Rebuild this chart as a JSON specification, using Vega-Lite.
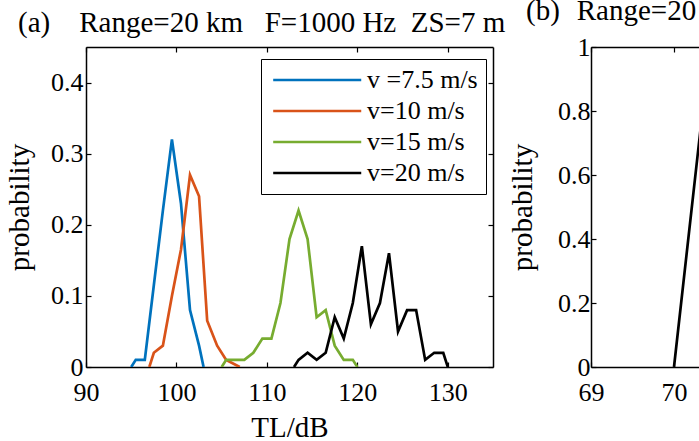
{
  "$schema": "https://vega.github.io/schema/vega-lite/v6.json",
  "padding": {"left": 5, "top": -3, "right": 0, "bottom": 0},
  "background": "white",
  "config": {
    "font": "Liberation Serif",
    "view": {"stroke": null},
    "axis": {
      "domainColor": "black", "domainWidth": 1.5,
      "tickColor": "black", "tickSize": -5, "tickWidth": 1.2,
      "labelColor": "black", "labelFont": "Liberation Serif", "labelFontSize": 26,
      "titleFont": "Liberation Serif", "titleFontSize": 29, "titleFontWeight": "normal", "titleColor": "black",
      "grid": false, "labelOverlap": false, "labelFlush": false
    },
    "title": {"font": "Liberation Serif", "fontSize": 29, "fontWeight": "normal", "color": "black", "anchor": "start", "frame": "group", "baseline": "alphabetic", "offset": 8}
  },
  "spacing": 2,
  "hconcat": [
    {
      "width": 407,
      "height": 320,
      "title": {"text": "(a)\u00a0\u00a0\u00a0\u00a0Range=20 km\u00a0\u00a0\u00a0F=1000 Hz\u00a0\u00a0ZS=7 m", "dx": -68},
      "data": {"values": [
        {"series": "v =7.5 m/s", "TL": 95, "p": 0},
        {"series": "v =7.5 m/s", "TL": 95.5, "p": 0.01},
        {"series": "v =7.5 m/s", "TL": 96.5, "p": 0.01},
        {"series": "v =7.5 m/s", "TL": 97.5, "p": 0.115},
        {"series": "v =7.5 m/s", "TL": 98.5, "p": 0.22},
        {"series": "v =7.5 m/s", "TL": 99.5, "p": 0.32},
        {"series": "v =7.5 m/s", "TL": 100.5, "p": 0.23},
        {"series": "v =7.5 m/s", "TL": 101.5, "p": 0.08},
        {"series": "v =7.5 m/s", "TL": 102.5, "p": 0.03},
        {"series": "v =7.5 m/s", "TL": 103, "p": 0},
        {"series": "v=10 m/s", "TL": 97, "p": 0},
        {"series": "v=10 m/s", "TL": 97.5, "p": 0.02},
        {"series": "v=10 m/s", "TL": 98.5, "p": 0.03},
        {"series": "v=10 m/s", "TL": 99.5, "p": 0.1},
        {"series": "v=10 m/s", "TL": 100.5, "p": 0.165},
        {"series": "v=10 m/s", "TL": 101.5, "p": 0.27},
        {"series": "v=10 m/s", "TL": 102.5, "p": 0.24},
        {"series": "v=10 m/s", "TL": 103.4, "p": 0.065},
        {"series": "v=10 m/s", "TL": 104.5, "p": 0.03},
        {"series": "v=10 m/s", "TL": 105.5, "p": 0.01},
        {"series": "v=10 m/s", "TL": 107, "p": 0},
        {"series": "v=15 m/s", "TL": 105, "p": 0},
        {"series": "v=15 m/s", "TL": 105.5, "p": 0.01},
        {"series": "v=15 m/s", "TL": 106.5, "p": 0.01},
        {"series": "v=15 m/s", "TL": 107.5, "p": 0.01},
        {"series": "v=15 m/s", "TL": 108.5, "p": 0.02},
        {"series": "v=15 m/s", "TL": 109.5, "p": 0.04},
        {"series": "v=15 m/s", "TL": 110.5, "p": 0.04},
        {"series": "v=15 m/s", "TL": 111.5, "p": 0.09},
        {"series": "v=15 m/s", "TL": 112.5, "p": 0.18},
        {"series": "v=15 m/s", "TL": 113.5, "p": 0.22},
        {"series": "v=15 m/s", "TL": 114.5, "p": 0.18},
        {"series": "v=15 m/s", "TL": 115.5, "p": 0.07},
        {"series": "v=15 m/s", "TL": 116.5, "p": 0.08},
        {"series": "v=15 m/s", "TL": 117.5, "p": 0.03},
        {"series": "v=15 m/s", "TL": 118.5, "p": 0.01},
        {"series": "v=15 m/s", "TL": 119.5, "p": 0.01},
        {"series": "v=15 m/s", "TL": 120, "p": 0},
        {"series": "v=20 m/s", "TL": 113, "p": 0},
        {"series": "v=20 m/s", "TL": 113.5, "p": 0.01},
        {"series": "v=20 m/s", "TL": 114.5, "p": 0.02},
        {"series": "v=20 m/s", "TL": 115.5, "p": 0.01},
        {"series": "v=20 m/s", "TL": 116.5, "p": 0.02},
        {"series": "v=20 m/s", "TL": 117.5, "p": 0.07},
        {"series": "v=20 m/s", "TL": 118.5, "p": 0.04},
        {"series": "v=20 m/s", "TL": 119.5, "p": 0.09},
        {"series": "v=20 m/s", "TL": 120.5, "p": 0.17},
        {"series": "v=20 m/s", "TL": 121.5, "p": 0.06},
        {"series": "v=20 m/s", "TL": 122.5, "p": 0.09},
        {"series": "v=20 m/s", "TL": 123.5, "p": 0.16},
        {"series": "v=20 m/s", "TL": 124.5, "p": 0.05},
        {"series": "v=20 m/s", "TL": 125.5, "p": 0.08},
        {"series": "v=20 m/s", "TL": 126.5, "p": 0.08},
        {"series": "v=20 m/s", "TL": 127.5, "p": 0.01},
        {"series": "v=20 m/s", "TL": 128.5, "p": 0.02},
        {"series": "v=20 m/s", "TL": 129.5, "p": 0.02},
        {"series": "v=20 m/s", "TL": 130, "p": 0}
      ]},
      "layer": [
        {
          "mark": {"type": "line", "strokeWidth": 2.7, "clip": true},
          "encoding": {
            "x": {"field": "TL", "type": "quantitative", "scale": {"domain": [90, 135], "nice": false, "zero": false},
                  "axis": {"values": [90, 100, 110, 120, 130], "title": "TL/dB", "labelPadding": 17, "titlePadding": 8}},
            "y": {"field": "p", "type": "quantitative", "scale": {"domain": [0, 0.45], "nice": false},
                  "axis": {"values": [0, 0.1, 0.2, 0.3, 0.4], "format": "~g", "title": "probability", "labelPadding": 8, "titlePadding": 16}},
            "color": {"field": "series", "type": "nominal",
                      "scale": {"domain": ["v =7.5 m/s", "v=10 m/s", "v=15 m/s", "v=20 m/s"], "range": ["#0072BD", "#D95319", "#77AC30", "#000000"]},
                      "legend": {"title": null, "orient": "none", "legendX": 175, "legendY": 12, "padding": 8,
                                 "symbolType": "M-1,0H9", "symbolSize": 310, "symbolStrokeWidth": 2.7,
                                 "labelFont": "Liberation Serif", "labelFontSize": 26, "labelColor": "black", "labelOffset": 72,
                                 "rowPadding": 5, "strokeColor": "black", "fillColor": "white", "cornerRadius": 0}}
          }
        },
        {
          "mark": {"type": "point", "opacity": 0},
          "encoding": {
            "x": {"field": "TL", "type": "quantitative", "scale": {"domain": [90, 135], "nice": false, "zero": false},
                  "axis": {"orient": "top", "values": [90, 100, 110, 120, 130], "labels": false, "title": null}},
            "y": {"field": "p", "type": "quantitative", "scale": {"domain": [0, 0.45], "nice": false},
                  "axis": {"orient": "right", "values": [0, 0.1, 0.2, 0.3, 0.4], "labels": false, "title": null}}
          }
        }
      ],
      "resolve": {"axis": {"x": "independent", "y": "independent"}}
    },
    {
      "width": 415,
      "height": 320,
      "title": {"text": "(b)\u00a0\u00a0\u200aRange=20 km\u00a0\u00a0\u00a0F=1000 Hz\u00a0\u00a0ZS=7 m", "dx": -65},
      "data": {"values": [
        {"TL": 70, "p": 0},
        {"TL": 70.4, "p": 0.93},
        {"TL": 71, "p": 0}
      ]},
      "layer": [
        {
          "mark": {"type": "line", "strokeWidth": 2.7, "color": "black", "clip": true},
          "encoding": {
            "x": {"field": "TL", "type": "quantitative", "scale": {"domain": [69, 74], "nice": false, "zero": false},
                  "axis": {"values": [69, 70, 71, 72, 73, 74], "title": "TL/dB", "labelPadding": 17, "titlePadding": 8}},
            "y": {"field": "p", "type": "quantitative", "scale": {"domain": [0, 1], "nice": false},
                  "axis": {"values": [0, 0.2, 0.4, 0.6, 0.8, 1], "format": "~g", "title": "probability", "labelPadding": 6, "titlePadding": 20}}
          }
        },
        {
          "mark": {"type": "point", "opacity": 0},
          "encoding": {
            "x": {"field": "TL", "type": "quantitative", "scale": {"domain": [69, 74], "nice": false, "zero": false},
                  "axis": {"orient": "top", "values": [69, 70, 71, 72, 73, 74], "labels": false, "title": null}},
            "y": {"field": "p", "type": "quantitative", "scale": {"domain": [0, 1], "nice": false},
                  "axis": {"orient": "right", "values": [0, 0.2, 0.4, 0.6, 0.8, 1], "labels": false, "title": null}}
          }
        }
      ],
      "resolve": {"axis": {"x": "independent", "y": "independent"}}
    }
  ]
}
